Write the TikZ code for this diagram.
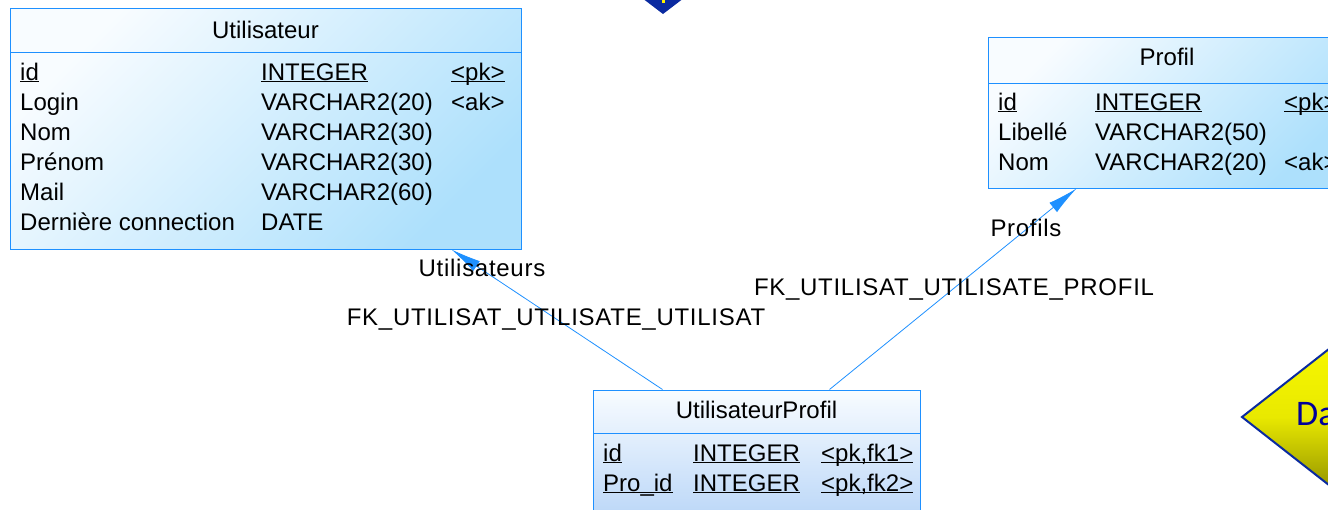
\documentclass[tikz,border=0pt]{standalone}
\usepackage{fontspec}
\setmainfont{Liberation Sans}
\newfontfamily\dafont{Carlito}
\newfontfamily\lblfont[LetterSpace=3]{Liberation Sans}
\usetikzlibrary{arrows.meta}
\definecolor{tblborder}{HTML}{1E90FF}
\definecolor{tbllight}{HTML}{F8FCFF}
\definecolor{tbldark}{HTML}{ADE0FC}
\definecolor{tbldarkb}{HTML}{BDD8F8}
\definecolor{linkcol}{HTML}{1E90FF}
\definecolor{dblue}{HTML}{0A2AA0}
\definecolor{dtext}{HTML}{000099}
\definecolor{olive}{HTML}{6B6B00}
\newcommand{\ulx}[1]{\underline{\smash{#1}}}
\tikzset{
  tbl/.style={draw=tblborder, line width=1pt, rectangle, inner sep=0pt,
    top color=tbllight, bottom color=tbldark, shading angle=45},
  tblb/.style={tbl, bottom color=tbldarkb},
  sep/.style={draw=tblborder, line width=1pt},
  txt/.style={anchor=base west, inner sep=0pt, font=\fontsize{24pt}{28pt}\selectfont},
  ttl/.style={anchor=base, inner sep=0pt, font=\fontsize{24pt}{28pt}\selectfont},
  lbl/.style={anchor=base, inner sep=0pt, font=\lblfont\fontsize{24pt}{28pt}\selectfont},
  link/.style={draw=linkcol, line width=0.8pt, -{Latex[length=30pt,width=12pt]}},
}
\begin{document}
\begin{tikzpicture}[x=1pt,y=-1pt]
\useasboundingbox (0,0) rectangle (1328,509);
\clip (0,0) rectangle (1328,509);

% blue diamond at top
\path[fill=dblue] (625,-15) -- (663,14) -- (701,-15) -- (663,-44) -- cycle;
\path[fill=yellow] (662,0) rectangle (665,3);

% yellow diamond at right
\path[draw=dblue, line width=2pt, top color=yellow, bottom color=olive, middle color=yellow!85!olive]
  (1242,417) -- (1380,309) -- (1518,417) -- (1380,525) -- cycle;
\node[anchor=base west, inner sep=0pt, text=dtext, font=\dafont\fontsize{36pt}{40pt}\selectfont] (da) at (1296,425) {Da};

% Utilisateur
\node[tbl, minimum width=511pt, minimum height=241pt] (u) at (265.5,128.5) {};
\draw[sep] (10,52) -- (521,52);
\node[ttl] (ut) at (265.5,38) {Utilisateur};
\node[txt] (u1a) at (20,80) {\ulx{id}};
\node[txt] (u1b) at (261,80) {\ulx{INTEGER}};
\node[txt] (u1c) at (451,80) {\ulx{<pk>}};
\node[txt] (u2a) at (20,110) {Login};
\node[txt] (u2b) at (261,110) {VARCHAR2(20)};
\node[txt] (u2c) at (451,110) {<ak>};
\node[txt] (u3a) at (20,140) {Nom};
\node[txt] (u3b) at (261,140) {VARCHAR2(30)};
\node[txt] (u4a) at (20,170) {Prénom};
\node[txt] (u4b) at (261,170) {VARCHAR2(30)};
\node[txt] (u5a) at (20,200) {Mail};
\node[txt] (u5b) at (261,200) {VARCHAR2(60)};
\node[txt] (u6a) at (20,230.5) {Dernière connection};
\node[txt] (u6b) at (261,230.5) {DATE};

% Profil
\node[tbl, minimum width=358pt, minimum height=151pt] (p) at (1167,112.5) {};
\draw[sep] (988,83) -- (1346,83);
\node[ttl] (pt) at (1167,65) {Profil};
\node[txt] (p1a) at (998,110) {\ulx{id}};
\node[txt] (p1b) at (1095,110) {\ulx{INTEGER}};
\node[txt] (p1c) at (1284,110) {\ulx{<pk>}};
\node[txt] (p2a) at (998,140) {Libellé};
\node[txt] (p2b) at (1095,140) {VARCHAR2(50)};
\node[txt] (p3a) at (998,170) {Nom};
\node[txt] (p3b) at (1095,170) {VARCHAR2(20)};
\node[txt] (p3c) at (1284,170) {<ak>};

% UtilisateurProfil
\node[tblb, minimum width=327pt, minimum height=124pt] (up) at (756.5,452) {};
\draw[sep] (593,433) -- (920,433);
\node[ttl] (upt) at (756.5,418) {UtilisateurProfil};
\node[txt] (up1a) at (603,461) {\ulx{id}};
\node[txt] (up1b) at (693,461) {\ulx{INTEGER}};
\node[txt] (up1c) at (821,461) {\ulx{<pk,fk1>}};
\node[txt] (up2a) at (603,491) {\ulx{Pro\_id}};
\node[txt] (up2b) at (693,491) {\ulx{INTEGER}};
\node[txt] (up2c) at (821,491) {\ulx{<pk,fk2>}};

% links
\draw[link] ([xshift=70pt]up.north west) -- ([xshift=442pt]u.south west);
\draw[link] ([xshift=237pt]up.north west) -- ([xshift=89pt]p.south west);

% link labels
\node[lbl] (l1) at (482,276) {Utilisateurs};
\node[lbl] (l2) at (556,325) {FK\_UTILISAT\_UTILISATE\_UTILISAT};
\node[lbl] (l3) at (1026,236) {Profils};
\node[lbl] (l4) at (954,295) {FK\_UTILISAT\_UTILISATE\_PROFIL};
\end{tikzpicture}
\end{document}
